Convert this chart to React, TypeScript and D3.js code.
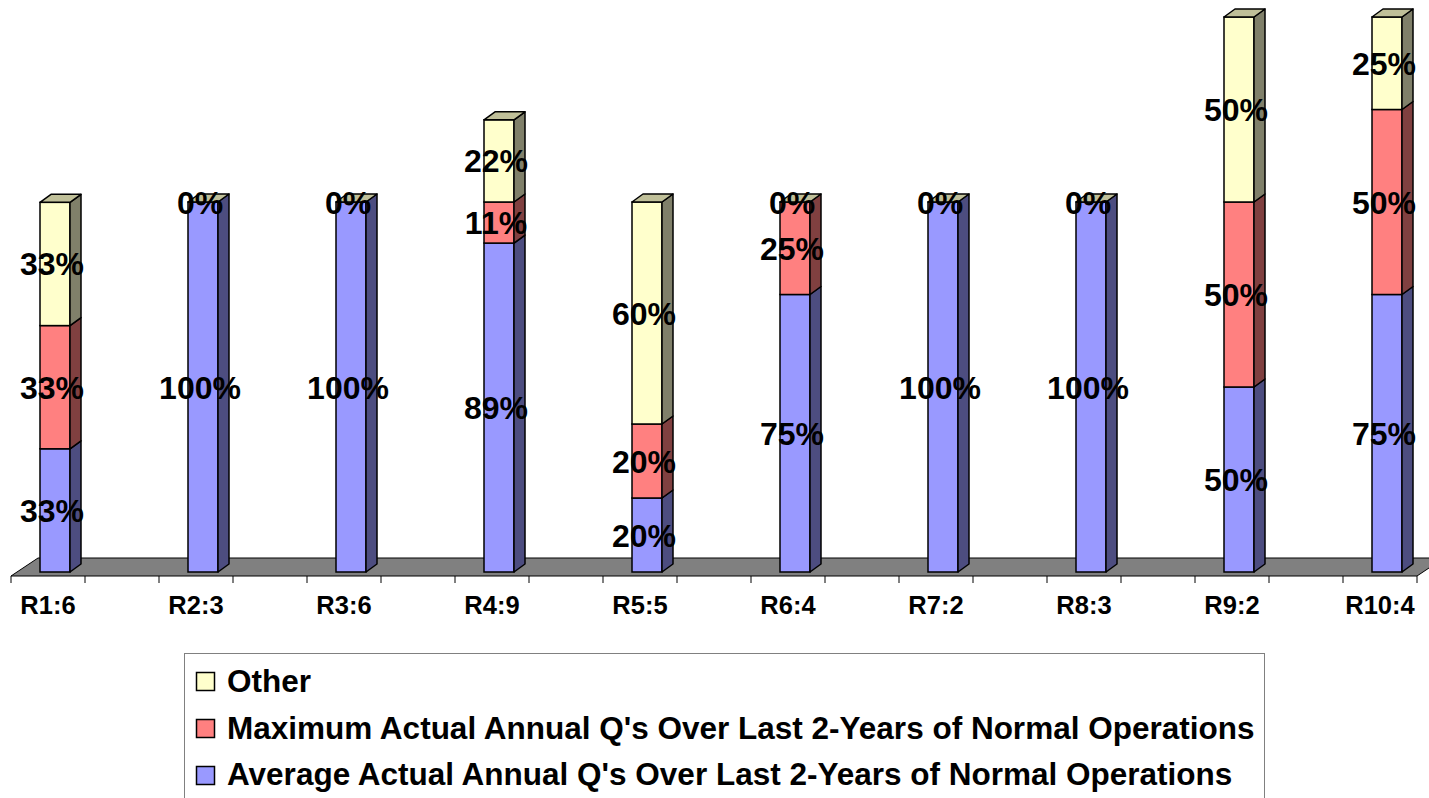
import React from "react";
import * as d3 from "d3";

const categories = ["R1:6", "R2:3", "R3:6", "R4:9", "R5:5", "R6:4", "R7:2", "R8:3", "R9:2", "R10:4"];
const seriesNames = [
  "Average Actual Annual Q's Over Last 2-Years of Normal Operations",
  "Maximum Actual Annual Q's Over Last 2-Years of Normal Operations",
  "Other",
];
const averageValues = [33.3, 100, 100, 88.9, 20, 75, 100, 100, 50, 75];
const maximumValues = [33.3, 0, 0, 11.1, 20, 25, 0, 0, 50, 50];
const otherValues = [33.3, 0, 0, 22.2, 60, 0, 0, 0, 50, 25];
const labelAverage = ["33%", "100%", "100%", "89%", "20%", "75%", "100%", "100%", "50%", "75%"];
const labelMaximum = ["33%", "", "", "11%", "20%", "25%", "", "", "50%", "50%"];
const labelOther = ["33%", "0%", "0%", "22%", "60%", "0%", "0%", "0%", "50%", "25%"];

const frontColors = ["#9999FF", "#FF8080", "#FFFFCC"];
const sideColors = ["#4D4D80", "#804040", "#80806A"];
const topColors = ["#7373BF", "#BF6060", "#C0C099"];

const W = 1429;
const H = 798;
const FONT = "'Liberation Sans', Arial, sans-serif";

export default function App() {
  const nSlots = categories.length * 2 - 1;
  const x = d3.scaleBand<number>().domain(d3.range(nSlots)).range([11, 1417]).padding(0);
  const y = d3.scaleLinear().domain([0, 150]).range([572, 17]);
  const bw = x.bandwidth();
  const series = [averageValues, maximumValues, otherValues];
  const labels = [labelAverage, labelMaximum, labelOther];
  const stack = d3.stack<number>().keys(["0", "1", "2"]).value((i, k) => series[+k][i]);
  const stacked = stack(d3.range(categories.length));

  const barW = 30;
  const ddx = 11;
  const ddy = -8;
  const floorFrontY = 576;
  const floorBackY = 558;
  const floorDx = 27;

  const center = (i: number) => (x(2 * i) as number) + bw / 2;
  const ticks = d3.range(nSlots + 1).map((k) => 11 + k * bw);

  return (
    <svg width={W} height={H} style={{ position: "absolute", left: 0, top: 0, background: "#fff" }}>
      <polygon
        points={`11,${floorFrontY} 1417,${floorFrontY} ${1417 + floorDx},${floorBackY} ${11 + floorDx},${floorBackY}`}
        fill="#808080"
        stroke="#000"
        strokeWidth={1}
      />
      {ticks.map((t, k) => (
        <line key={k} x1={t} x2={t} y1={floorFrontY} y2={floorFrontY + 7} stroke="#000" strokeWidth={1} />
      ))}
      {categories.map((c, i) => {
        const x0 = center(i) - 8;
        const x1 = x0 + barW;
        return (
          <g key={c}>
            {stacked.map((s, si) => {
              const yb = y(s[i][0]);
              const yt = y(s[i][1]);
              return (
                <g key={si}>
                  {yb - yt > 0 && (
                    <>
                      <rect x={x0} y={yt} width={barW} height={yb - yt} fill={frontColors[si]} stroke="#000" strokeWidth={1.5} />
                      <polygon
                        points={`${x1},${yb} ${x1 + ddx},${yb + ddy} ${x1 + ddx},${yt + ddy} ${x1},${yt}`}
                        fill={sideColors[si]}
                        stroke="#000"
                        strokeWidth={1.5}
                        strokeLinejoin="round"
                      />
                    </>
                  )}
                  {si === stacked.length - 1 && (
                    <polygon
                      points={`${x0},${yt} ${x1},${yt} ${x1 + ddx},${yt + ddy} ${x0 + ddx},${yt + ddy}`}
                      fill={topColors[si]}
                      stroke="#000"
                      strokeWidth={1.5}
                      strokeLinejoin="round"
                    />
                  )}
                </g>
              );
            })}
          </g>
        );
      })}
      {categories.map((c, i) =>
        stacked.map((s, si) => {
          const txt = labels[si][i];
          if (!txt) return null;
          const ym = (y(s[i][0]) + y(s[i][1])) / 2;
          return (
            <text
              key={c + si}
              x={center(i) + 4}
              y={ym}
              dy="0.36em"
              textAnchor="middle"
              fontFamily={FONT}
              fontWeight="bold"
              fontSize={32}
              fill="#000"
            >
              {txt}
            </text>
          );
        })
      )}
      {categories.map((c, i) => (
        <text
          key={"l" + c}
          x={center(i)}
          y={614}
          textAnchor="middle"
          fontFamily={FONT}
          fontWeight="bold"
          fontSize={25.5}
          fill="#000"
        >
          {c}
        </text>
      ))}
      <rect x={184.5} y={653.5} width={1080} height={170} fill="#fff" stroke="#808080" strokeWidth={1} />
      {[2, 1, 0].map((si, row) => (
        <g key={"lg" + si}>
          <rect x={196.5} y={672.5 + row * 47} width={18} height={18} fill={frontColors[si]} stroke="#000" strokeWidth={1.5} />
          <text x={227} y={692 + row * 46.5} fontFamily={FONT} fontWeight="bold" fontSize={31.5} fill="#000">
            {seriesNames[si]}
          </text>
        </g>
      ))}
    </svg>
  );
}
